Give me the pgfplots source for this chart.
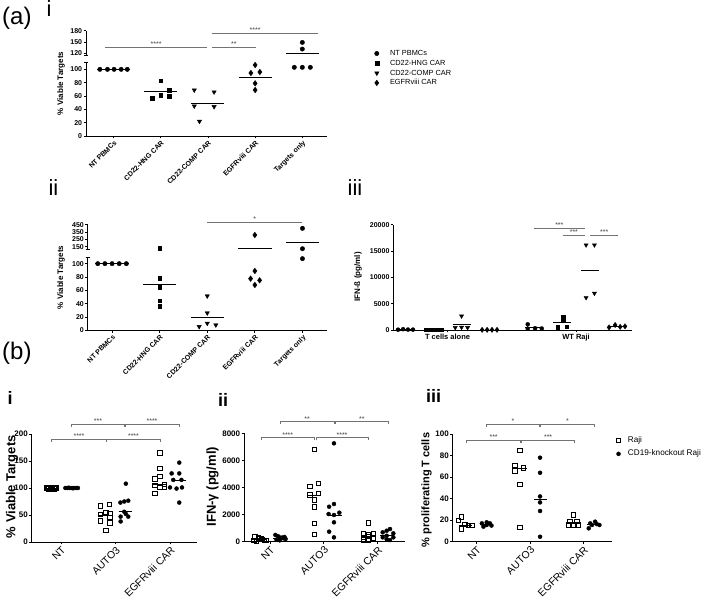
\documentclass[border=0pt]{standalone}
\usepackage{fontspec}
\setmainfont{Liberation Sans}
\usepackage{pgfplots}
\pgfplotsset{compat=1.18}
\tikzset{
  sig/.style={black!55, line width=0.6pt},
  stars/.style={font=\fontsize{7}{7}\selectfont, text=black!75, inner sep=0.4pt, anchor=south},
}
\pgfplotsset{
  gp/.style={scale only axis, anchor=south west,
    axis x line=bottom, axis y line=left, axis line style={-, line width=0.75pt},
    tick align=outside, tick style={line width=0.75pt, black}, major tick length=2.5pt,
    enlargelimits=false, clip=false,
    /pgf/number format/assume math mode=true, /pgf/number format/1000 sep={},
    scaled y ticks=false},
  aaxis/.style={gp,
    yticklabel style={font=\bfseries\fontsize{7}{8}\selectfont, inner sep=1.2pt}},
  arot/.style={xticklabel style={font=\bfseries\fontsize{7}{8}\selectfont, rotate=45, anchor=north east, inner sep=1pt}},
  baxis/.style={gp,
    yticklabel style={font=\bfseries\fontsize{8}{9}\selectfont, inner sep=1.2pt},
    xticklabel style={font=\fontsize{10.4}{11}\selectfont, rotate=45, anchor=north east, inner sep=0.8pt}},
  mline/.style={black, line width=0.8pt, mark=none, forget plot},
  mc/.style={only marks, mark=*, mark size=2.2pt, black},
  ms/.style={only marks, mark=square*, mark size=1.9pt, black},
  mt/.style={only marks, mark=triangle*, mark size=2.5pt, mark options={rotate=180}, black},
  md/.style={only marks, mark=diamond*, mark size=2.8pt, black},
  bsq/.style={only marks, mark=square, mark size=2.2pt, mark options={line width=0.8pt}, black},
  bci/.style={only marks, mark=*, mark size=2pt, black},
}
\begin{document}
\begin{tikzpicture}
\useasboundingbox (0pt,0pt) rectangle (706pt,601pt);

% ---------------- a(i) lower ----------------
\begin{axis}[aaxis, arot, at={(86pt,465pt)}, width=241pt, height=73.3pt,
  xmin=0.415, xmax=5.523, ymin=0, ymax=110, ytick={0,20,40,60,80,100},
  xtick={1,2,3,4,5}, xticklabels={NT PBMCs,CD22-HNG CAR,CD22-COMP CAR,EGFRviii CAR,Targets only},
  legend style={at={(axis description cs:1.181,1.192)}, anchor=north west, draw=none, fill=none,
     inner sep=0pt, row sep=0.4pt, font=\fontsize{7.4}{8}\selectfont,
     nodes={inner sep=1.2pt, text height=5.4pt, text depth=1.6pt}},
  legend cell align=left,
  legend image code/.code={\path[draw=none,fill=none] (0pt,0pt) -- (18pt,0pt); \draw[#1] plot coordinates {(6pt,0pt)};}]
\addplot[mc] coordinates {(0.71,100)(0.87,100)(1.01,100)(1.16,100)(1.29,100)};
\addlegendentry{NT PBMCs}
\addplot[ms] coordinates {(1.81,57)(2,83)(2,61.5)(2.17,68.5)(2.17,59.5)};
\addlegendentry{CD22-HNG CAR}
\addplot[mt] coordinates {(2.71,69)(3.13,66)(2.71,45)(3.13,44)(2.82,22)};
\addlegendentry{CD22-COMP CAR}
\addplot[md] coordinates {(4,106.5)(3.91,94.5)(4.1,96)(4,79)(4,69)};
\addlegendentry{EGFRviii CAR}
\addplot[mc, forget plot] coordinates {(4.83,103)(5,103)(5.17,103)};
\addplot[mline] coordinates {(0.65,100)(1.35,100)};
\addplot[mline] coordinates {(1.65,66.5)(2.35,66.5)};
\addplot[mline] coordinates {(2.65,48.5)(3.35,48.5)};
\addplot[mline] coordinates {(3.65,88.5)(4.35,88.5)};
\draw[line width=0.75pt] (axis cs:0.415,110) ++(-2.2pt,0pt) -- ++(4.4pt,0pt);
\end{axis}
% ---------------- a(i) upper ----------------
\begin{axis}[aaxis, at={(86pt,545.7pt)}, width=241pt, height=24.6pt,
  xmin=0.415, xmax=5.523, ymin=115, ymax=180, ytick={120,150,180}, axis x line=none]
\addplot[mc] coordinates {(5,149)(5,131.5)};
\addplot[mline] coordinates {(4.65,120)(5.35,120)};
\draw[line width=0.75pt] (axis cs:0.415,115) ++(-2.2pt,0pt) -- ++(4.4pt,0pt);
\draw[sig] (axis cs:0.818,136.2) -- (axis cs:2.972,136.2);
\node[stars] at (axis cs:1.9,136.2) {****};
\draw[sig] (axis cs:3.085,136.2) -- (axis cs:4.017,136.2);
\node[stars] at (axis cs:3.55,136.2) {**};
\draw[sig] (axis cs:3.085,173.2) -- (axis cs:5.33,173.2);
\node[stars] at (axis cs:4.0,173.2) {****};
\end{axis}

% ---------------- a(ii) lower ----------------
\begin{axis}[aaxis, arot, at={(87.7pt,270.7pt)}, width=239.5pt, height=73.3pt,
  xmin=0.488, xmax=5.52, ymin=0, ymax=110, ytick={0,20,40,60,80,100},
  xtick={1,2,3,4,5}, xticklabels={NT PBMCs,CD22-HNG CAR,CD22-COMP CAR,EGFRviii CAR,Targets only}]
\addplot[mc] coordinates {(0.7,100)(0.85,100)(1,100)(1.15,100)(1.3,100)};
\addplot[ms] coordinates {(2,78)(2,65)(2,44.5)(2,36)};
\addplot[mt] coordinates {(3,51.5)(3,26)(2.83,5.5)(3,10.5)(3.18,8)};
\addplot[md] coordinates {(4,89)(3.91,77.5)(4.1,75)(4,68)};
\addplot[mc] coordinates {(5,107.5)};
\addplot[mline] coordinates {(0.65,100)(1.35,100)};
\addplot[mline] coordinates {(1.65,69)(2.35,69)};
\addplot[mline] coordinates {(2.65,20)(3.35,20)};
\draw[line width=0.75pt] (axis cs:0.488,110) ++(-2.2pt,0pt) -- ++(4.4pt,0pt);
\end{axis}
% ---------------- a(ii) upper ----------------
\begin{axis}[aaxis, at={(87.7pt,351.7pt)}, width=239.5pt, height=24.6pt,
  xmin=0.488, xmax=5.52, ymin=115, ymax=450, ytick={150,250,350,450}, axis x line=none]
\addplot[ms] coordinates {(2,125)};
\addplot[md] coordinates {(4,309)};
\addplot[mc] coordinates {(5,400)(5,123)};
\addplot[mline] coordinates {(3.65,127)(4.35,127)};
\addplot[mline] coordinates {(4.65,214)(5.35,214)};
\draw[line width=0.75pt] (axis cs:0.488,115) ++(-2.2pt,0pt) -- ++(4.4pt,0pt);
\draw[sig] (axis cs:2.99,483) -- (axis cs:4.998,483);
\node[stars] at (axis cs:4,483) {*};
\end{axis}

% ---------------- a(iii) ----------------
\begin{axis}[aaxis, at={(393.3pt,271pt)}, width=238.4pt, height=105.3pt,
  xmin=0.578, xmax=2.433, ymin=0, ymax=20000, ytick={0,5000,10000,15000,20000},
  xtick={1,2}, xticklabels={T cells alone,WT Raji},
  xticklabel style={anchor=north, inner sep=1.5pt, font=\bfseries\fontsize{7.5}{8}\selectfont}]
\addplot[mc, mark size=2pt] coordinates {(0.615,60)(0.654,150)(0.692,80)(0.731,70)};
\addplot[ms, mark size=1.8pt] coordinates {(0.833,30)(0.872,30)(0.91,30)(0.949,30)};
\addplot[mt, mark size=2.4pt] coordinates {(1.109,2650)(1.06,450)(1.109,500)(1.156,450)};
\addplot[md, mark size=2.6pt] coordinates {(1.269,30)(1.308,30)(1.346,30)(1.385,30)};
\addplot[mc, mark size=2pt] coordinates {(1.624,1080)(1.624,250)(1.681,330)(1.733,280)};
\addplot[ms, mark size=1.8pt] coordinates {(1.901,2550)(1.901,1750)(1.858,500)(1.928,650)};
\addplot[mt, mark size=2.4pt] coordinates {(2.078,16150)(2.143,16150)(2.078,6140)(2.143,6970)};
\addplot[md, mark size=2.6pt] coordinates {(2.257,500)(2.304,950)(2.343,600)(2.381,700)};
\addplot[mline] coordinates {(0.603,90)(0.743,90)};
\addplot[mline] coordinates {(1.039,1010)(1.179,1010)};
\addplot[mline] coordinates {(1.603,485)(1.743,485)};
\addplot[mline] coordinates {(1.821,1360)(1.961,1360)};
\addplot[mline] coordinates {(2.039,11350)(2.179,11350)};
\addplot[mline] coordinates {(2.257,690)(2.397,690)};
\draw[sig] (axis cs:1.675,19300) -- (axis cs:2.070,19300);
\node[stars] at (axis cs:1.87,19300) {***};
\draw[sig] (axis cs:1.896,18050) -- (axis cs:2.070,18050);
\node[stars] at (axis cs:1.983,18050) {***};
\draw[sig] (axis cs:2.109,18050) -- (axis cs:2.329,18050);
\node[stars] at (axis cs:2.219,18050) {***};
\end{axis}

% ---------------- b(i) ----------------
\begin{axis}[baxis, at={(31.7pt,59pt)}, width=165pt, height=108pt,
  xmin=0.462, xmax=3.49, ymin=0, ymax=200, ytick={0,50,100,150,200},
  xtick={1,2,3}, xticklabels={NT,AUTO3,EGFRviii CAR}]
\addplot[bsq] coordinates {(0.735,100)(0.78,100)(0.825,100)(0.87,100)(0.915,100)(0.76,101.5)(0.89,101.5)(0.78,98.5)(0.87,98.5)};
\addplot[bci] coordinates {(1.08,100)(1.12,100)(1.16,100)(1.2,100)(1.24,100)(1.28,100)(1.31,100)(1.14,100.5)(1.22,99.5)};
\addplot[bsq] coordinates {(1.728,67)(1.888,70)(1.728,39)(1.82,22)(1.9,53)(1.9,45)(1.82,55)(1.9,35)(1.728,51)};
\addplot[bci] coordinates {(2.19,108)(2.161,75)(2.234,76.5)(2.09,73)(2.094,47)(2.234,47)(2.094,38)(2.19,52)(2.161,56)};
\addplot[bsq] coordinates {(2.817,165)(2.817,136)(2.817,121)(2.72,117)(2.72,105)(2.897,102)(2.817,101)(2.72,90)(2.897,107)};
\addplot[bci] coordinates {(3.17,147)(3.03,127)(3.17,127)(3.06,115)(3.21,115)(3.0,101)(3.12,99)(3.22,101)(3.17,73)};
\addplot[mline] coordinates {(0.705,100)(0.945,100)};
\addplot[mline] coordinates {(1.055,100)(1.295,100)};
\addplot[mline] coordinates {(1.687,50)(1.927,50)};
\addplot[mline] coordinates {(2.055,56)(2.295,56)};
\addplot[mline] coordinates {(2.69,107)(2.93,107)};
\addplot[mline] coordinates {(3.05,113.5)(3.29,113.5)};
\draw[sig] (axis cs:0.829,186) -- (axis cs:0.829,190.7) -- (axis cs:1.826,190.7) -- (axis cs:1.826,186);
\node[stars] at (axis cs:1.33,190.7) {****};
\draw[sig] (axis cs:1.839,186) -- (axis cs:1.839,190.7) -- (axis cs:2.817,190.7) -- (axis cs:2.817,186);
\node[stars] at (axis cs:2.33,190.7) {****};
\draw[sig] (axis cs:1.196,213.5) -- (axis cs:1.196,218.5) -- (axis cs:2.161,218.5) -- (axis cs:2.161,213.5);
\node[stars] at (axis cs:1.68,218.5) {***};
\draw[sig] (axis cs:2.174,213.5) -- (axis cs:2.174,218.5) -- (axis cs:3.171,218.5) -- (axis cs:3.171,213.5);
\node[stars] at (axis cs:2.67,218.5) {****};
\end{axis}

% ---------------- b(ii) ----------------
\begin{axis}[baxis, at={(244pt,59.3pt)}, width=161pt, height=108.4pt,
  xmin=0.516, xmax=3.512, ymin=0, ymax=8000, ytick={0,2000,4000,6000,8000},
  xtick={1,2,3}, xticklabels={NT,AUTO3,EGFRviii CAR}]
\addplot[bsq] coordinates {(0.72,350)(0.78,300)(0.84,200)(0.9,100)(0.75,50)(0.86,150)(0.8,250)(0.7,100)(0.92,80)};
\addplot[bci] coordinates {(1.1,500)(1.15,400)(1.2,300)(1.25,250)(1.29,200)(1.12,150)(1.18,100)(1.23,300)(1.27,350)};
\addplot[bsq] coordinates {(1.824,6815)(1.898,4300)(1.74,4100)(1.898,3570)(1.74,3440)(1.824,3075)(1.824,2580)(1.824,1350)(1.824,540)};
\addplot[bci] coordinates {(2.19,7260)(2.19,2780)(2.1,2580)(2.09,2040)(2.29,2140)(2.19,1430)(2.1,740)(2.19,320)(2.19,1970)};
\addplot[bsq] coordinates {(2.829,1400)(2.736,565)(2.829,490)(2.922,615)(2.736,300)(2.829,370)(2.922,250)(2.736,120)(2.829,120)};
\addplot[bci] coordinates {(3.233,935)(3.171,810)(3.097,690)(3.295,615)(3.171,440)(3.097,320)(3.295,320)(3.171,170)(3.233,120)};
\addplot[mline] coordinates {(0.69,150)(0.94,150)};
\addplot[mline] coordinates {(1.06,250)(1.31,250)};
\addplot[mline] coordinates {(1.7,3440)(1.95,3440)};
\addplot[mline] coordinates {(2.085,1920)(2.335,1920)};
\addplot[mline] coordinates {(2.705,400)(2.955,400)};
\addplot[mline] coordinates {(3.05,440)(3.3,440)};
\draw[sig] (axis cs:0.833,7475) -- (axis cs:0.833,7675) -- (axis cs:1.824,7675) -- (axis cs:1.824,7475);
\node[stars] at (axis cs:1.33,7675) {****};
\draw[sig] (axis cs:1.856,7475) -- (axis cs:1.856,7675) -- (axis cs:2.829,7675) -- (axis cs:2.829,7475);
\node[stars] at (axis cs:2.34,7675) {****};
\draw[sig] (axis cs:1.186,8656) -- (axis cs:1.186,8856) -- (axis cs:2.19,8856) -- (axis cs:2.19,8656);
\node[stars] at (axis cs:1.69,8856) {**};
\draw[sig] (axis cs:2.215,8656) -- (axis cs:2.215,8856) -- (axis cs:3.2,8856) -- (axis cs:3.2,8656);
\node[stars] at (axis cs:2.71,8856) {**};
\end{axis}

% ---------------- b(iii) ----------------
\begin{axis}[baxis, at={(452.7pt,59.3pt)}, width=159pt, height=107.7pt,
  xmin=0.554, xmax=3.53, ymin=0, ymax=100, ytick={0,20,40,60,80,100},
  xtick={1,2,3}, xticklabels={NT,AUTO3,EGFRviii CAR},
  legend style={at={(axis description cs:1.004,0.99)}, anchor=north west, draw=none, fill=none,
     inner sep=0pt, row sep=3.3pt, font=\fontsize{8.2}{9}\selectfont,
     nodes={inner sep=1.2pt, text height=6pt, text depth=1.8pt}},
  legend cell align=left,
  legend image code/.code={\path[draw=none,fill=none] (0pt,0pt) -- (14.2pt,0pt); \draw[#1] plot coordinates {(6pt,0pt)};}]
\addplot[bsq] coordinates {(0.66,19.5)(0.72,23)(0.72,12)(0.785,16)(0.85,15)(0.91,15)};
\addlegendentry{Raji}
\addplot[bci] coordinates {(1.1,17)(1.13,14)(1.19,18)(1.25,17)(1.28,15)(1.19,15.5)};
\addlegendentry{CD19-knockout Raji}
\addplot[bsq, forget plot] coordinates {(1.815,84.5)(1.721,71)(1.876,68.7)(1.721,65.6)(1.815,53)(1.815,13)};
\addplot[bci, forget plot] coordinates {(2.189,78)(2.189,64)(2.189,42)(2.189,36.5)(2.189,28.5)(2.189,4.6)};
\addplot[bsq, forget plot] coordinates {(2.813,25)(2.75,18.6)(2.876,18.6)(2.813,15.5)(2.72,15.5)(2.906,15.5)};
\addplot[bci, forget plot] coordinates {(3.22,18.6)(3.128,17)(3.25,16.4)(3.3,15.5)(3.1,12.4)(3.16,15.5)};
\addplot[mline] coordinates {(0.67,15.5)(0.92,15.5)};
\addplot[mline] coordinates {(1.065,16)(1.315,16)};
\addplot[mline] coordinates {(1.69,68)(1.94,68)};
\addplot[mline] coordinates {(2.077,39.6)(2.32,39.6)};
\addplot[mline] coordinates {(2.69,17)(2.94,17)};
\addplot[mline] coordinates {(3.06,16)(3.31,16)};
\draw[sig] (axis cs:0.816,91.9) -- (axis cs:0.816,94.4) -- (axis cs:1.815,94.4) -- (axis cs:1.815,91.9);
\node[stars] at (axis cs:1.32,94.4) {***};
\draw[sig] (axis cs:1.846,91.9) -- (axis cs:1.846,94.4) -- (axis cs:2.831,94.4) -- (axis cs:2.831,91.9);
\node[stars] at (axis cs:2.34,94.4) {***};
\draw[sig] (axis cs:1.191,106.5) -- (axis cs:1.191,109) -- (axis cs:2.176,109) -- (axis cs:2.176,106.5);
\node[stars] at (axis cs:1.68,109) {*};
\draw[sig] (axis cs:2.202,106.5) -- (axis cs:2.202,109) -- (axis cs:3.2,109) -- (axis cs:3.2,106.5);
\node[stars] at (axis cs:2.7,109) {*};
\end{axis}

% ---------------- axis titles ----------------
\node[rotate=90, font=\bfseries\fontsize{8}{9}\selectfont] at (61pt,517.6pt) {\% Viable Targets};
\node[rotate=90, font=\bfseries\fontsize{8}{9}\selectfont] at (61pt,323.5pt) {\% Viable Targets};
\node[rotate=90, font=\bfseries\fontsize{8}{9}\selectfont] at (358pt,324pt) {IFN-ß (pg/ml)};
\node[rotate=90, font=\bfseries\fontsize{13}{14}\selectfont] at (12pt,114.3pt) {\% Viable Targets};
\node[rotate=90, font=\bfseries\fontsize{13}{14}\selectfont] at (212.5pt,114.3pt) {IFN-γ (pg/ml)};
\node[rotate=90, font=\bfseries\fontsize{11}{12}\selectfont] at (426.5pt,111pt) {\% proliferating T cells};

% ---------------- panel labels ----------------
\node[anchor=west, inner sep=0pt, font=\fontsize{24}{24}\selectfont] at (2pt,583pt) {(a)};
\node[inner sep=0pt, font=\fontsize{22}{22}\selectfont] at (49pt,592pt) {i};
\node[inner sep=0pt, font=\fontsize{22}{22}\selectfont] at (53.5pt,413.5pt) {ii};
\node[inner sep=0pt, font=\fontsize{22}{22}\selectfont] at (355pt,413.5pt) {iii};
\node[anchor=west, inner sep=0pt, font=\fontsize{24}{24}\selectfont] at (2pt,248pt) {(b)};
\node[inner sep=0pt, font=\bfseries\fontsize{18}{18}\selectfont] at (10pt,203.5pt) {i};
\node[inner sep=0pt, font=\bfseries\fontsize{18}{18}\selectfont] at (223pt,201.5pt) {ii};
\node[inner sep=0pt, font=\bfseries\fontsize{18}{18}\selectfont] at (433.5pt,205.5pt) {iii};
\end{tikzpicture}
\end{document}
